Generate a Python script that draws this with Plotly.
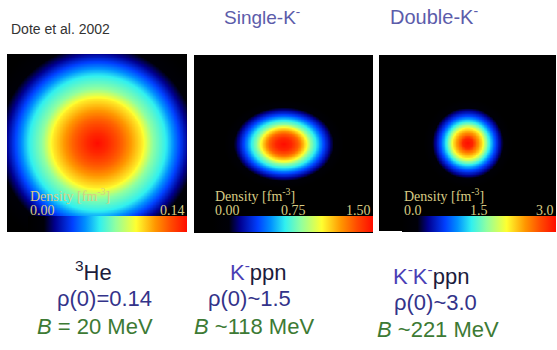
import numpy as np
import plotly.graph_objects as go

W, H = 557, 350

# Radial density profiles (r in fm, rho in fm^-3)
he3_r = [0.0, 0.45, 1.12, 2.0, 2.46, 3.04, 3.66, 4.02, 4.46, 5.13]
he3_rho = [0.140, 0.134, 0.121, 0.098, 0.077, 0.063, 0.039, 0.024, 0.011, 0.0]

kppn_r = [0.0, 0.35, 0.67, 1.03, 1.2, 1.43, 1.79, 2.05, 2.28, 2.68]
kppn_rho = [1.50, 1.44, 1.30, 1.02, 0.83, 0.68, 0.42, 0.26, 0.12, 0.0]
kppn_aspect = 0.74  # vertical / horizontal extent

kkppn_r = [0.0, 0.22, 0.36, 0.67, 0.85, 0.98, 1.25, 1.47, 1.65, 2.0]
kkppn_rho = [3.00, 2.88, 2.60, 2.10, 1.65, 1.35, 0.84, 0.51, 0.24, 0.0]

rho_max = [0.14, 1.5, 3.0]
cbar_ticks = [["0.00", "0.14"], ["0.00", "0.75", "1.50"], ["0.0", "1.5", "3.0"]]

titles = ["Single-K<sup>-</sup>", "Double-K<sup>-</sup>"]
nuclei = ["<sup>3</sup>He",
          "<span style='color:#4b3fb5'>K<sup>-</sup></span>ppn",
          "<span style='color:#4b3fb5'>K<sup>-</sup>K<sup>-</sup></span>ppn"]
rho0 = ["\u03c1(0)=0.14", "\u03c1(0)~1.5", "\u03c1(0)~3.0"]
binding = ["<i>B</i> = 20 MeV", "<i>B</i> ~118 MeV", "<i>B</i> ~221 MeV"]

colorscale = [
    [0.00, "#000000"],
    [0.10, "#000008"],
    [0.17, "#000090"],
    [0.28, "#0040ff"],
    [0.36, "#0090ff"],
    [0.45, "#30f0f0"],
    [0.55, "#90ffa0"],
    [0.68, "#ffff30"],
    [0.80, "#ff9600"],
    [0.90, "#ff4a00"],
    [1.00, "#ff0c00"],
]

# spatial grid (fm)
g = np.linspace(-4, 4, 241)
X, Y = np.meshgrid(g, g)


def field(r_pts, rho_pts, aspect=1.0):
    r = np.sqrt(X ** 2 + (Y / aspect) ** 2)
    return np.interp(r, r_pts, rho_pts, right=0.0)


fields = [field(he3_r, he3_rho), field(kppn_r, kppn_rho, kppn_aspect),
          field(kkppn_r, kkppn_rho)]

# panel boxes in pixels: (left, right, top, bottom)
panels = [(7, 187, 54, 232), (194, 373, 55, 233), (379, 556, 55, 231)]
# colour bar extents in pixels (left, right)
cbars = [(28, 187), (213, 373), (402, 556)]
cbar_top, cbar_bot = 216, 232


def px(x):
    return x / W


def py(y):
    return 1 - y / H


fig = go.Figure()
layout = dict(width=W, height=H, margin=dict(l=0, r=0, t=0, b=0),
              paper_bgcolor="white", plot_bgcolor="black", showlegend=False)

for i, (z, (l, r, t, b), (cl, cr)) in enumerate(zip(fields, panels, cbars)):
    sfx = "" if i == 0 else str(i + 1)
    layout["xaxis" + sfx] = dict(domain=[px(l), px(r)], range=[-4, 4], visible=False,
                                 anchor="y" + sfx, fixedrange=True)
    layout["yaxis" + sfx] = dict(domain=[py(b), py(t)], range=[-4, 4], visible=False,
                                 anchor="x" + sfx, fixedrange=True)
    fig.add_trace(go.Heatmap(
        x=g, y=g, z=z, xaxis="x" + sfx, yaxis="y" + sfx,
        colorscale=colorscale, zmin=0, zmax=rho_max[i], zsmooth="best",
        hoverinfo="skip",
        colorbar=dict(orientation="h", x=px(cl), xanchor="left",
                      len=(cr - cl) / W, lenmode="fraction",
                      y=py(cbar_bot), yanchor="bottom", thickness=cbar_bot - cbar_top,
                      thicknessmode="pixels", xpad=0, ypad=0, outlinewidth=0,
                      showticklabels=False, ticks=""),
    ))

annotations = []
cb_font = dict(family="Liberation Serif, Times New Roman, serif", size=14, color="#d8cc84")
for i, (cl, cr) in enumerate(cbars):
    annotations.append(dict(x=px(cl), y=py(195), xref="paper", yref="paper",
                            text="Density [fm<sup>-3</sup>]", showarrow=False,
                            xanchor="left", yanchor="middle", font=cb_font))
    labels = cbar_ticks[i]
    for j, lab in enumerate(labels):
        v = float(lab) / rho_max[i]
        xa = "left" if j == 0 else ("right" if j == len(labels) - 1 else "center")
        annotations.append(dict(x=px(cl + v * (cr - cl)), y=py(210), xref="paper",
                                yref="paper", text=lab, showarrow=False,
                                xanchor=xa, yanchor="middle", font=cb_font))

sans = "Liberation Sans, Arial, sans-serif"
annotations.append(dict(x=px(9), y=py(29), xref="paper", yref="paper",
                        text="Dote et al. 2002", showarrow=False, xanchor="left",
                        yanchor="middle", font=dict(family=sans, size=14, color="#333333")))
for txt, xc, fs in zip(titles, [262, 434], [19, 20]):
    annotations.append(dict(x=px(xc), y=py(16), xref="paper", yref="paper", text=txt,
                            showarrow=False, xanchor="center", yanchor="middle",
                            font=dict(family=sans, size=fs, color="#5c5caa")))

row_y = [(271, 298, 326), (271, 298, 326), (275, 302, 329)]
row_x = [(93, 104, 95), (258, 249, 254), (431, 435, 438)]
for i in range(3):
    y1, y2, y3 = row_y[i]
    x1, x2, x3 = row_x[i]
    annotations.append(dict(x=px(x1), y=py(y1), xref="paper", yref="paper",
                            text=nuclei[i], showarrow=False, xanchor="center",
                            yanchor="middle",
                            font=dict(family=sans, size=22, color="#1c1c3c")))
    annotations.append(dict(x=px(x2), y=py(y2), xref="paper", yref="paper",
                            text=rho0[i], showarrow=False, xanchor="center",
                            yanchor="middle",
                            font=dict(family=sans, size=22, color="#33338a")))
    annotations.append(dict(x=px(x3), y=py(y3), xref="paper", yref="paper",
                            text=binding[i], showarrow=False, xanchor="center",
                            yanchor="middle",
                            font=dict(family=sans, size=22, color="#3d7a34")))

layout["annotations"] = annotations
fig.update_layout(**layout)
fig.write_html("out.html")
